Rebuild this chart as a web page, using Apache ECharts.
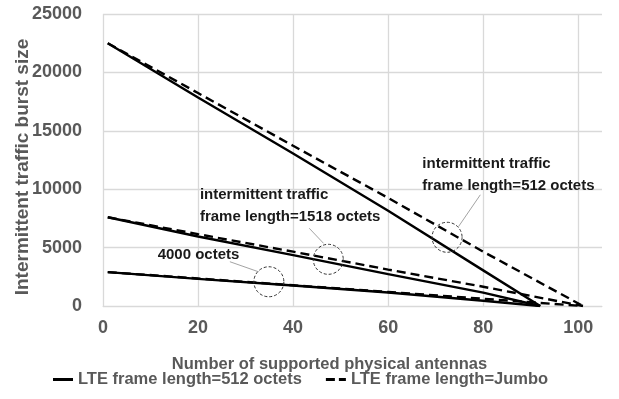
<!DOCTYPE html>
<html><head><meta charset="utf-8">
<script src="https://cdn.jsdelivr.net/npm/echarts@6/dist/echarts.min.js"></script>
<style>html,body{margin:0;padding:0;background:#fff}#c{width:619px;height:399px}</style>
</head><body><div id="c"></div>
<script>
// ---- data ----
const xTickLabels = ['0', '20', '40', '60', '80', '100'];
const yTickLabels = ['0', '5000', '10000', '15000', '20000', '25000'];
const antennas512 = [1, 20, 40, 60, 80, 92];
const antennasJumbo = [1, 20, 40, 60, 80, 101];
const burst512 = [22500, 17850, 13050, 8150, 3050, 0];
const burst512Jumbo = [22500, 18230, 13720, 9250, 4650, 0];
const burst1518 = [7600, 5950, 4350, 2730, 1150, 0];
const burst1518Jumbo = [7600, 6150, 4650, 3120, 1650, 0];
const burst4000 = [2900, 2320, 1750, 1150, 450, 0];
const burst4000Jumbo = [2900, 2360, 1780, 1200, 620, 0];
const legendSolid = 'LTE frame length=512 octets';
const legendDashed = 'LTE frame length=Jumbo';
const xTitle = 'Number of supported physical antennas';
const yTitle = 'Intermittent traffic burst size';
// annotations (data coordinates)
const noteTexts = ['intermittent traffic\nframe length=512 octets', 'intermittent traffic\nframe length=1518 octets', '4000 octets'];
const noteTextAnchors = [[67.2, 13100], [20.4, 10450], [11.5, 5350]];
const noteCircles = [[72.4, 5883], [47.4, 3997], [34.9, 2075]];
const noteLeaderFrom = [[74.8, 6792], [46.4, 5369], [32.7, 2933]];
const noteLeaderTo = [[79.4, 9521], [43.4, 6655], [26.7, 3791]];

const FONT = "'Liberation Sans', Arial, sans-serif";
const GRAY = '#595959';
const GRID = '#d9d9d9';

function pairs(xs, ys) { return xs.map((x, i) => [x, ys[i]]); }
function mkSeries(name, xs, ys, dashed) {
  return {
    name, type: 'line', symbol: 'none', silent: true, animation: false,
    data: pairs(xs, ys),
    lineStyle: { color: '#000', width: 2.4, type: dashed ? [9, 5] : 'solid' },
    itemStyle: { color: '#000' }
  };
}

const chart = echarts.init(document.getElementById('c'), null, { renderer: 'canvas' });
chart.setOption({
  animation: false,
  backgroundColor: '#fff',
  textStyle: { fontFamily: FONT },
  grid: { left: 103, right: 17, top: 14, bottom: 93, containLabel: false, outerBoundsMode: 'none' },
  legend: {
    left: 48, top: 366, itemWidth: 20, itemHeight: 3, itemGap: 24,
    data: [
      { name: legendSolid, icon: 'rect' },
      { name: legendDashed, icon: 'path://M0,0h9v3h-9z M13,0h7v3h-7z' }
    ],
    itemStyle: { color: '#000' },
    textStyle: { color: GRAY, fontSize: 16.5, fontWeight: 'bold', fontFamily: FONT }
  },
  xAxis: {
    type: 'value', min: 0, max: 105, interval: 20,
    name: xTitle, nameLocation: 'middle', nameGap: 50,
    nameTextStyle: { color: GRAY, fontSize: 16.5, fontWeight: 'bold', fontFamily: FONT, padding: [0, 46, 0, 0] },
    axisLine: { show: true, lineStyle: { color: GRID, width: 1 } },
    axisTick: { show: false },
    axisLabel: { color: GRAY, fontSize: 18, fontWeight: 'bold', fontFamily: FONT, margin: 13, showMaxLabel: false,
      formatter: v => xTickLabels[v / 20] !== undefined ? xTickLabels[v / 20] : '' },
    splitLine: { show: true, showMaxLine: false, lineStyle: { color: GRID, width: 1.3 } }
  },
  yAxis: {
    type: 'value', min: 0, max: 25000, interval: 5000,
    axisLine: { show: false },
    axisTick: { show: false },
    axisLabel: { color: GRAY, fontSize: 18, fontWeight: 'bold', fontFamily: FONT, margin: 21,
      formatter: v => yTickLabels[v / 5000] !== undefined ? yTickLabels[v / 5000] : '' },
    splitLine: { show: true, lineStyle: { color: GRID, width: 1.3 } }
  },
  series: [
    mkSeries(legendSolid, antennas512, burst512, false),
    mkSeries(legendDashed, antennasJumbo, burst512Jumbo, true),
    mkSeries(legendSolid, antennas512, burst1518, false),
    mkSeries(legendDashed, antennasJumbo, burst1518Jumbo, true),
    mkSeries(legendSolid, antennas512, burst4000, false),
    mkSeries(legendDashed, antennasJumbo, burst4000Jumbo, true)
  ]
});

const px = p => chart.convertToPixel({ gridIndex: 0 }, p);
const graphics = [{
  type: 'text', silent: true, x: 23, y: 167, rotation: Math.PI / 2,
  style: { text: yTitle, fill: GRAY, fontSize: 19, fontWeight: 'bold', fontFamily: FONT, align: 'center', verticalAlign: 'middle' }
}];
noteCircles.forEach(c => {
  const p = px(c);
  graphics.push({ type: 'circle', silent: true, z: 10, shape: { cx: p[0], cy: p[1], r: 15 },
    style: { fill: 'none', stroke: '#333', lineWidth: 1, lineDash: [3, 2] } });
});
noteLeaderFrom.forEach((a, i) => {
  const p1 = px(a), p2 = px(noteLeaderTo[i]);
  graphics.push({ type: 'line', silent: true, z: 10, shape: { x1: p1[0], y1: p1[1], x2: p2[0], y2: p2[1] },
    style: { stroke: '#8c8c8c', lineWidth: 0.8 } });
});
noteTexts.forEach((t, i) => {
  const p = px(noteTextAnchors[i]);
  graphics.push({ type: 'text', silent: true, z: 11, x: p[0], y: p[1],
    style: { text: t, fill: '#1a1a1a', fontSize: 15, fontWeight: 'bold', fontFamily: FONT,
      lineHeight: 22, align: 'left', verticalAlign: 'top' } });
});
chart.setOption({ graphic: graphics });
</script>
</body></html>
